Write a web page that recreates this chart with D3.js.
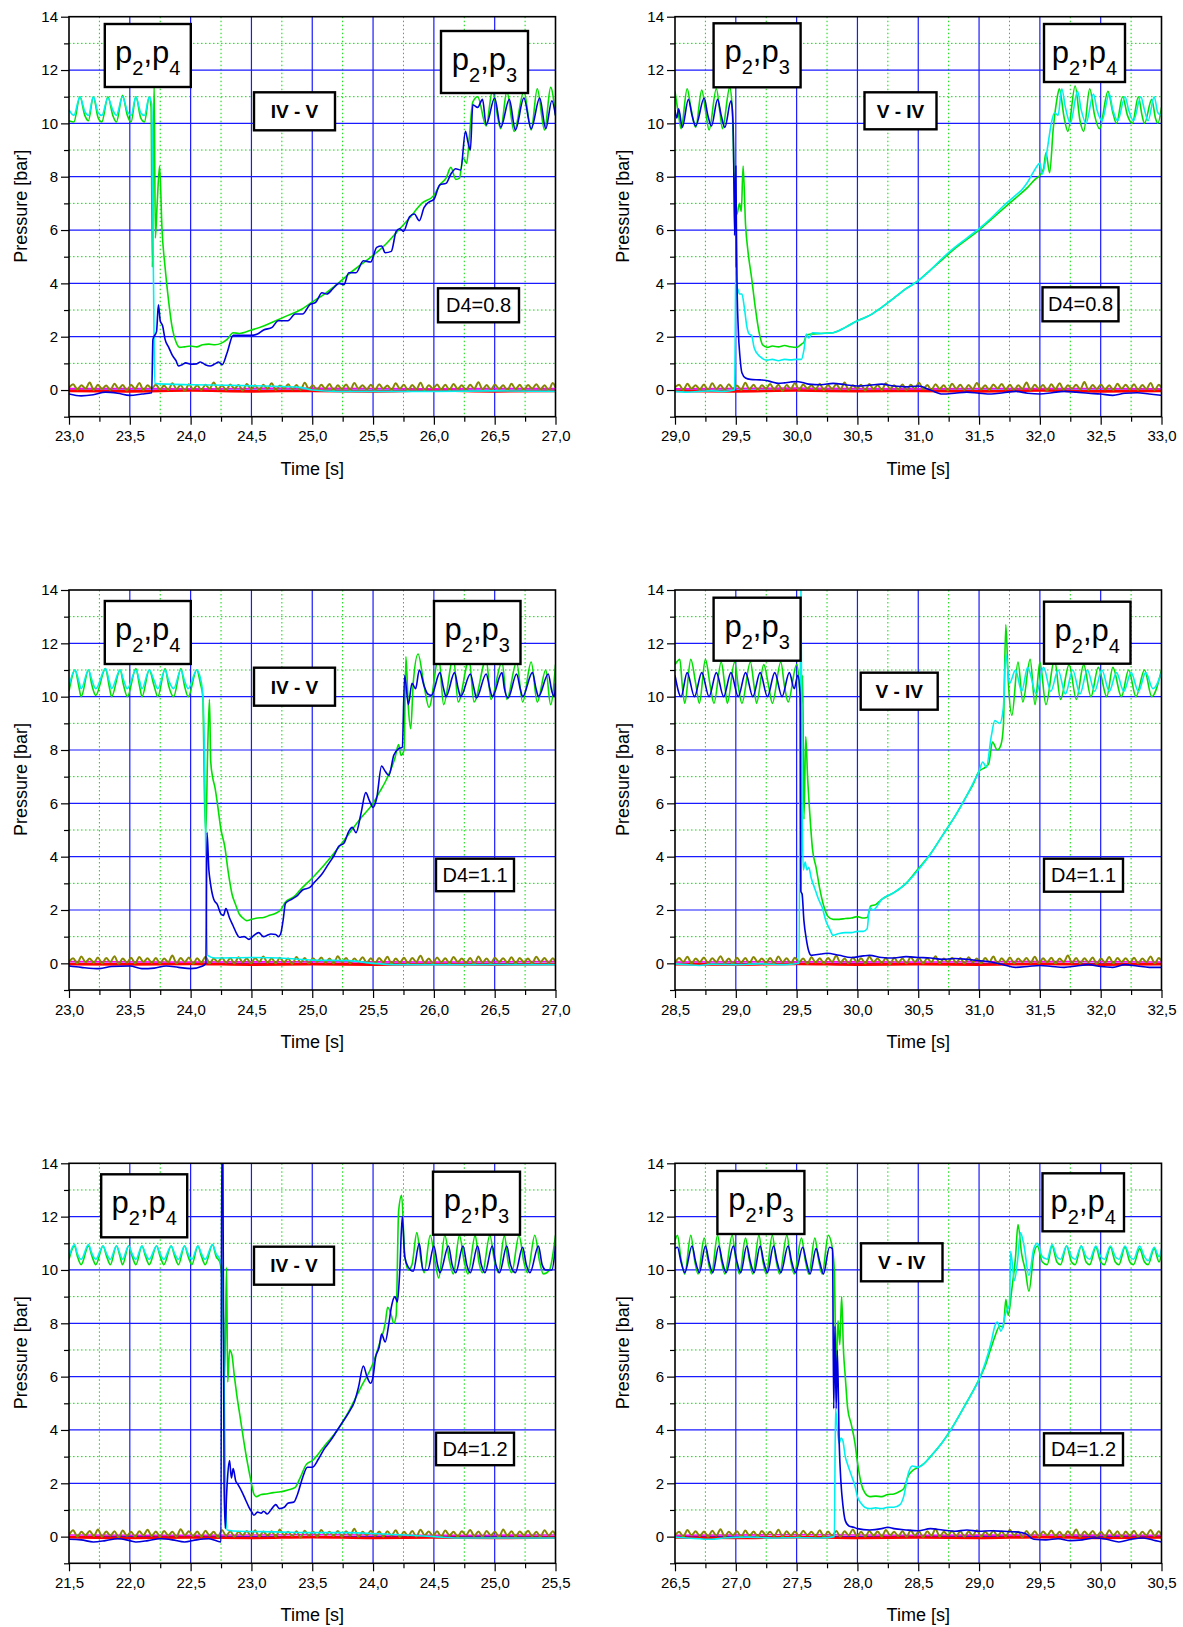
<!DOCTYPE html>
<html>
<head>
<meta charset="utf-8">
<script src="https://cdn.jsdelivr.net/npm/d3@7"></script>
<style>
body { margin: 0; background: #fff; }
svg { display: block; font-family: "Liberation Sans", Arial, sans-serif; }
</style>
</head>
<body>
<svg id="chart" width="1183" height="1627"></svg>
<script>
// ---- data (time [s], pressure [bar]) ----
var xDomains = [[23, 27], [29, 33], [23, 27], [28.5, 32.5], [21.5, 25.5], [26.5, 30.5]];
var yTicksMajor = [0, 2, 4, 6, 8, 10, 12, 14];
var yTicksMinor = [-1, 1, 3, 5, 7, 9, 11, 13];
var transitions = ["IV - V", "V - IV", "IV - V", "V - IV", "IV - V", "V - IV"];
var d4Labels = ["D4=0.8", "D4=0.8", "D4=1.1", "D4=1.1", "D4=1.2", "D4=1.2"];
var leftSubs = [["2", "4"], ["2", "3"], ["2", "4"], ["2", "3"], ["2", "4"], ["2", "3"]];
var rightSubs = [["2", "3"], ["2", "4"], ["2", "3"], ["2", "4"], ["2", "3"], ["2", "4"]];

// flat lists t,v,t,v...
var green1 = [23.0,10.1, 23.04,10.05, 23.09,11.0, 23.13,10.3, 23.16,10.1, 23.20,11.0, 23.24,10.2, 23.27,10.05, 23.32,11.0, 23.36,10.3, 23.39,10.05, 23.44,11.05, 23.48,10.3, 23.51,10.05, 23.55,11.0, 23.59,10.2, 23.62,10.05, 23.66,11.0, 23.675,10.6, 23.685,4.6, 23.70,11.6, 23.71,5.7, 23.725,7.0, 23.745,8.4, 23.765,6.0, 23.79,4.6, 23.82,3.3, 23.85,2.3, 23.88,1.8, 23.91,1.6, 23.95,1.62, 24.0,1.65, 24.05,1.62, 24.1,1.7, 24.15,1.72, 24.2,1.7, 24.25,1.75, 24.3,1.9, 24.35,2.15, 24.4,2.12, 24.5,2.25, 24.6,2.4, 24.7,2.6, 24.8,2.8, 24.9,3.0, 25.0,3.3, 25.1,3.6, 25.2,3.95, 25.3,4.35, 25.4,4.7, 25.5,5.05, 25.6,5.45, 25.7,5.95, 25.8,6.45, 25.9,7.0, 26.0,7.3, 26.05,7.7, 26.1,7.95, 26.14,8.35, 26.18,7.9, 26.21,7.95, 26.24,8.7, 26.27,8.5, 26.29,9.4, 26.32,10.8, 26.36,11.0, 26.43,9.9, 26.48,11.2, 26.55,9.8, 26.6,11.2, 26.66,9.7, 26.74,11.2, 26.8,9.75, 26.85,11.3, 26.91,9.75, 26.96,11.35, 27.0,10.3];
var cyan1 = [23.0,10.5, 23.04,10.3, 23.09,11.0, 23.13,10.45, 23.16,10.3, 23.2,11.0, 23.24,10.4, 23.27,10.3, 23.32,10.95, 23.36,10.5, 23.39,10.3, 23.44,11.0, 23.48,10.45, 23.51,10.3, 23.55,11.0, 23.59,10.4, 23.62,10.3, 23.66,11.0, 23.68,10.7, 23.695,4.0, 23.705,0.25, 23.8,0.22, 24.0,0.2, 24.3,0.18, 24.6,0.15, 24.9,0.1, 25.0,0.0, 25.2,-0.05, 26.0,-0.05, 26.5,-0.03, 27.0,-0.05];
var blue1 = [23.0,-0.15, 23.1,-0.22, 23.2,-0.18, 23.3,-0.08, 23.4,-0.12, 23.5,-0.2, 23.6,-0.15, 23.68,-0.1, 23.69,1.9, 23.72,2.2, 23.735,3.2, 23.75,2.6, 23.77,2.4, 23.79,1.9, 23.82,1.6, 23.85,1.3, 23.88,1.1, 23.9,0.9, 23.93,0.95, 23.96,1.02, 24.0,0.97, 24.05,0.98, 24.08,1.05, 24.12,0.95, 24.16,0.9, 24.2,0.98, 24.23,1.05, 24.26,0.95, 24.3,1.4, 24.35,2.05, 24.4,2.05, 24.5,2.05, 24.55,2.1, 24.6,2.25, 24.67,2.35, 24.72,2.6, 24.8,2.6, 24.86,2.85, 24.92,2.85, 24.98,3.2, 25.03,3.3, 25.08,3.65, 25.12,3.6, 25.17,3.8, 25.22,4.0, 25.26,3.95, 25.3,4.4, 25.36,4.4, 25.42,4.85, 25.48,4.8, 25.53,5.35, 25.57,5.4, 25.6,5.15, 25.65,5.2, 25.69,5.95, 25.72,6.05, 25.75,5.95, 25.8,6.5, 25.84,6.6, 25.88,6.35, 25.92,6.85, 25.96,7.05, 26.0,7.15, 26.05,7.7, 26.1,7.75, 26.14,8.1, 26.18,8.3, 26.22,8.25, 26.26,9.7, 26.28,9.3, 26.3,9.0, 26.32,10.7, 26.36,10.6, 26.4,10.9, 26.43,9.95, 26.5,10.95, 26.55,9.85, 26.62,10.9, 26.67,9.75, 26.74,10.95, 26.8,9.8, 26.87,10.95, 26.92,9.8, 26.97,10.85, 27.0,10.3];

var green2 = [29.0,11.2, 29.03,10.3, 29.05,9.8, 29.1,11.3, 29.13,10.6, 29.17,9.85, 29.22,11.25, 29.25,10.5, 29.28,9.75, 29.34,11.3, 29.37,10.4, 29.39,9.8, 29.45,11.35, 29.47,10.6, 29.49,7.5, 29.51,6.6, 29.53,7.0, 29.545,6.7, 29.56,8.4, 29.58,6.2, 29.6,5.2, 29.63,4.2, 29.66,3.1, 29.69,2.2, 29.72,1.7, 29.76,1.6, 29.8,1.65, 29.85,1.62, 29.9,1.67, 29.95,1.62, 30.0,1.6, 30.04,1.72, 30.06,1.8, 30.08,2.05, 30.12,2.1, 30.2,2.12, 30.3,2.15, 30.4,2.35, 30.5,2.6, 30.6,2.8, 30.7,3.1, 30.8,3.45, 30.9,3.8, 31.0,4.1, 31.1,4.5, 31.2,4.9, 31.3,5.3, 31.4,5.65, 31.5,6.0, 31.6,6.4, 31.7,6.8, 31.8,7.2, 31.9,7.6, 31.96,7.9, 32.0,8.05, 32.03,8.3, 32.05,8.9, 32.08,8.15, 32.11,9.8, 32.14,10.9, 32.16,11.3, 32.2,10.2, 32.23,9.7, 32.29,11.4, 32.33,10.1, 32.36,9.7, 32.41,11.3, 32.45,10.3, 32.49,9.8, 32.56,11.2, 32.6,10.4, 32.63,10.0, 32.68,11.0, 32.72,10.3, 32.76,10.0, 32.81,11.0, 32.84,10.3, 32.86,10.0, 32.92,10.9, 32.95,10.2, 32.97,10.0, 33.0,10.6];
var cyan2 = [29.0,-0.05, 29.1,-0.08, 29.2,-0.05, 29.3,-0.03, 29.4,-0.05, 29.49,0.0, 29.495,2.0, 29.5,4.6, 29.505,3.4, 29.515,3.8, 29.53,3.6, 29.55,3.6, 29.57,3.1, 29.59,2.4, 29.61,2.1, 29.63,2.05, 29.65,1.6, 29.67,1.4, 29.7,1.25, 29.73,1.15, 29.76,1.12, 29.8,1.15, 29.85,1.1, 29.9,1.15, 29.95,1.13, 30.0,1.15, 30.04,1.15, 30.06,1.5, 30.08,2.1, 30.1,1.95, 30.13,2.15, 30.2,2.12, 30.3,2.15, 30.4,2.35, 30.5,2.6, 30.6,2.8, 30.7,3.1, 30.8,3.45, 30.9,3.8, 31.0,4.1, 31.1,4.5, 31.2,4.95, 31.3,5.35, 31.4,5.7, 31.5,6.05, 31.6,6.45, 31.7,6.9, 31.8,7.3, 31.85,7.5, 31.9,7.8, 31.95,8.2, 32.0,8.5, 32.02,8.1, 32.06,9.0, 32.09,9.9, 32.12,10.4, 32.15,10.3, 32.18,11.3, 32.21,10.6, 32.25,10.0, 32.31,11.2, 32.34,10.5, 32.38,10.0, 32.44,11.1, 32.47,10.5, 32.51,10.1, 32.57,11.1, 32.6,10.5, 32.64,10.1, 32.7,11.0, 32.73,10.5, 32.77,10.1, 32.83,11.0, 32.86,10.5, 32.89,10.1, 32.94,11.0, 32.97,10.4, 33.0,10.3];
var blue2 = [29.0,10.5, 29.015,10.2, 29.03,10.55, 29.06,9.85, 29.11,10.9, 29.14,10.3, 29.17,9.9, 29.24,10.95, 29.27,10.3, 29.3,9.9, 29.35,10.9, 29.38,10.3, 29.41,9.85, 29.46,10.85, 29.47,10.6, 29.48,9.5, 29.49,5.8, 29.495,7.0, 29.5,8.4, 29.505,6.0, 29.51,4.0, 29.52,2.3, 29.535,1.2, 29.55,0.65, 29.58,0.45, 29.62,0.4, 29.7,0.38, 29.75,0.36, 29.8,0.3, 29.85,0.25, 29.9,0.27, 29.95,0.3, 30.0,0.32, 30.05,0.28, 30.1,0.22, 30.2,0.2, 30.3,0.25, 30.4,0.2, 30.5,0.15, 30.6,0.18, 30.7,0.22, 30.8,0.15, 30.9,0.12, 31.0,0.15, 31.1,0.0, 31.2,-0.15, 31.3,-0.12, 31.4,-0.08, 31.5,-0.12, 31.6,-0.15, 31.7,-0.1, 31.8,-0.05, 31.9,-0.12, 32.0,-0.15, 32.1,-0.1, 32.2,-0.05, 32.3,-0.08, 32.4,-0.12, 32.5,-0.15, 32.6,-0.2, 32.7,-0.12, 32.8,-0.1, 32.9,-0.15, 33.0,-0.2];

var green3 = [23.0,10.2, 23.05,11.0, 23.08,10.4, 23.1,10.0, 23.16,11.0, 23.19,10.4, 23.22,10.05, 23.3,11.05, 23.33,10.4, 23.35,10.0, 23.42,11.0, 23.45,10.4, 23.48,10.0, 23.55,11.05, 23.58,10.4, 23.6,10.0, 23.66,11.0, 23.7,10.4, 23.73,10.0, 23.79,11.05, 23.82,10.4, 23.86,10.0, 23.92,11.05, 23.95,10.4, 23.98,10.0, 24.05,11.0, 24.08,10.5, 24.1,10.0, 24.115,6.0, 24.125,4.9, 24.14,8.0, 24.155,9.9, 24.165,7.6, 24.18,7.0, 24.2,6.6, 24.22,6.0, 24.25,5.0, 24.28,4.4, 24.31,3.4, 24.34,2.6, 24.37,2.2, 24.4,1.85, 24.43,1.7, 24.46,1.6, 24.5,1.65, 24.55,1.7, 24.6,1.72, 24.65,1.8, 24.7,1.88, 24.74,2.0, 24.78,2.3, 24.85,2.5, 24.9,2.75, 25.0,3.2, 25.1,3.7, 25.2,4.25, 25.3,4.85, 25.4,5.45, 25.5,6.0, 25.55,6.4, 25.6,6.8, 25.64,7.2, 25.68,7.7, 25.71,8.2, 25.73,7.8, 25.755,8.0, 25.77,11.5, 25.79,9.6, 25.81,8.8, 25.83,10.5, 25.87,11.6, 25.92,10.4, 25.96,9.6, 26.04,11.5, 26.08,9.7, 26.16,11.5, 26.2,9.8, 26.29,11.4, 26.33,9.8, 26.43,11.4, 26.47,9.9, 26.56,11.3, 26.6,9.9, 26.68,11.3, 26.73,9.8, 26.8,11.3, 26.85,9.8, 26.92,11.0, 26.96,9.7, 27.0,11.2];
var cyan3 = [23.0,10.4, 23.05,11.0, 23.08,10.6, 23.1,10.3, 23.16,11.0, 23.19,10.6, 23.22,10.3, 23.3,11.05, 23.33,10.6, 23.35,10.3, 23.42,11.0, 23.45,10.6, 23.48,10.3, 23.55,11.0, 23.58,10.6, 23.6,10.3, 23.66,11.0, 23.7,10.6, 23.73,10.3, 23.79,11.0, 23.82,10.6, 23.86,10.3, 23.92,11.0, 23.95,10.6, 23.98,10.3, 24.05,11.0, 24.08,10.7, 24.1,10.1, 24.12,6.0, 24.13,2.0, 24.14,0.3, 24.2,0.2, 24.5,0.22, 24.8,0.18, 25.0,0.12, 25.3,0.1, 25.5,0.0, 25.7,-0.05, 26.5,-0.05, 27.0,-0.05];
var blue3 = [23.0,-0.1, 23.1,-0.15, 23.25,-0.2, 23.35,-0.12, 23.5,-0.1, 23.6,-0.2, 23.7,-0.18, 23.8,-0.1, 23.9,-0.15, 24.0,-0.2, 24.1,-0.1, 24.125,0.0, 24.135,4.9, 24.15,3.5, 24.16,3.1, 24.19,2.4, 24.22,2.2, 24.25,1.85, 24.27,1.8, 24.29,2.05, 24.32,1.7, 24.35,1.4, 24.38,1.1, 24.4,0.98, 24.44,1.0, 24.48,0.9, 24.52,1.05, 24.56,1.15, 24.6,1.0, 24.63,1.05, 24.66,1.1, 24.7,1.08, 24.72,1.0, 24.74,1.1, 24.76,1.6, 24.78,2.25, 24.83,2.4, 24.88,2.55, 24.92,2.75, 24.98,2.85, 25.02,3.05, 25.08,3.35, 25.13,3.7, 25.18,4.05, 25.22,4.4, 25.26,4.5, 25.3,4.95, 25.33,5.1, 25.36,4.9, 25.4,5.6, 25.44,6.4, 25.47,6.1, 25.5,5.85, 25.53,6.2, 25.57,7.4, 25.6,7.2, 25.63,7.05, 25.67,7.8, 25.71,8.05, 25.74,8.1, 25.76,10.8, 25.79,9.7, 25.82,10.5, 25.85,10.3, 25.88,11.0, 25.92,10.4, 25.95,10.1, 25.98,10.05, 26.05,10.9, 26.08,10.3, 26.1,10.0, 26.17,10.9, 26.2,10.3, 26.22,10.0, 26.3,10.85, 26.33,10.3, 26.35,9.95, 26.43,10.85, 26.46,10.3, 26.48,10.0, 26.56,10.9, 26.58,10.3, 26.61,9.95, 26.68,10.85, 26.71,10.3, 26.73,10.0, 26.81,10.9, 26.84,10.3, 26.86,10.0, 26.94,10.85, 26.97,10.2, 26.99,10.0, 27.0,10.5];

var green4 = [28.5,11.2, 28.54,11.4, 28.56,10.4, 28.58,9.75, 28.63,11.4, 28.67,10.5, 28.7,9.75, 28.75,11.4, 28.79,10.4, 28.82,9.75, 28.88,11.3, 28.91,10.4, 28.93,9.75, 28.99,11.3, 29.02,10.4, 29.05,9.75, 29.12,11.3, 29.15,10.4, 29.17,9.75, 29.23,11.2, 29.27,10.4, 29.3,9.75, 29.37,11.3, 29.4,10.4, 29.43,9.8, 29.5,11.2, 29.52,10.6, 29.535,9.5, 29.55,10.8, 29.56,5.4, 29.575,8.5, 29.59,7.0, 29.61,5.5, 29.63,4.3, 29.66,3.6, 29.69,2.8, 29.72,2.2, 29.76,1.75, 29.8,1.65, 29.85,1.65, 29.9,1.68, 29.95,1.7, 30.0,1.75, 30.04,1.7, 30.08,1.72, 30.11,2.15, 30.15,2.2, 30.2,2.4, 30.3,2.65, 30.4,3.0, 30.5,3.55, 30.6,4.1, 30.7,4.8, 30.8,5.5, 30.9,6.3, 30.95,6.7, 31.0,7.2, 31.05,7.35, 31.08,7.5, 31.11,8.3, 31.15,8.0, 31.18,8.2, 31.2,8.9, 31.22,12.7, 31.24,10.6, 31.27,9.3, 31.32,11.3, 31.36,9.8, 31.42,11.4, 31.46,9.7, 31.5,11.3, 31.55,9.7, 31.62,11.4, 31.67,9.9, 31.74,11.2, 31.8,9.9, 31.86,11.2, 31.92,10.0, 31.98,11.1, 32.05,10.0, 32.1,11.1, 32.17,10.0, 32.23,11.0, 32.29,10.0, 32.36,11.0, 32.42,10.0, 32.5,11.0];
var cyan4 = [28.5,-0.02, 28.6,-0.05, 28.7,-0.08, 28.8,-0.03, 29.0,-0.05, 29.2,-0.02, 29.4,-0.05, 29.52,0.0, 29.535,14.5, 29.545,6.0, 29.555,3.5, 29.57,3.8, 29.585,3.5, 29.6,3.6, 29.62,3.2, 29.65,2.8, 29.68,2.4, 29.71,2.1, 29.74,1.6, 29.77,1.3, 29.8,1.05, 29.85,1.12, 29.9,1.15, 29.95,1.15, 30.0,1.2, 30.05,1.2, 30.08,1.3, 30.1,2.1, 30.13,2.0, 30.2,2.4, 30.3,2.65, 30.4,3.0, 30.5,3.5, 30.6,4.1, 30.7,4.8, 30.8,5.5, 30.9,6.3, 30.95,6.75, 31.0,7.2, 31.03,7.55, 31.06,7.35, 31.1,8.5, 31.13,9.1, 31.17,9.0, 31.2,9.6, 31.22,11.6, 31.25,10.5, 31.3,11.0, 31.35,10.2, 31.4,11.1, 31.47,10.1, 31.53,11.1, 31.59,10.2, 31.65,11.0, 31.71,10.1, 31.77,11.0, 31.83,10.1, 31.89,11.0, 31.95,10.2, 32.01,11.0, 32.07,10.2, 32.13,10.9, 32.19,10.2, 32.25,10.9, 32.31,10.2, 32.37,10.9, 32.43,10.3, 32.5,10.9];
var blue4 = [28.5,10.8, 28.55,10.0, 28.6,10.9, 28.66,10.0, 28.72,10.9, 28.78,10.0, 28.84,10.9, 28.9,10.0, 28.96,10.9, 29.02,10.0, 29.08,10.9, 29.14,10.0, 29.2,10.9, 29.26,10.0, 29.32,10.9, 29.38,10.0, 29.44,10.9, 29.48,10.3, 29.51,10.8, 29.53,10.0, 29.535,2.7, 29.545,2.6, 29.56,1.6, 29.58,0.9, 29.6,0.45, 29.62,0.3, 29.7,0.35, 29.75,0.38, 29.85,0.3, 29.95,0.22, 30.05,0.28, 30.1,0.3, 30.2,0.22, 30.3,0.2, 30.4,0.25, 30.5,0.22, 30.6,0.2, 30.7,0.15, 30.8,0.18, 30.9,0.15, 31.0,0.1, 31.1,0.05, 31.2,-0.05, 31.3,-0.15, 31.4,-0.12, 31.5,-0.08, 31.6,-0.12, 31.7,-0.15, 31.8,-0.1, 31.9,-0.05, 32.0,-0.12, 32.1,-0.15, 32.2,-0.05, 32.3,-0.1, 32.4,-0.15, 32.5,-0.15];

var green5 = [21.5,10.4, 21.545,10.9, 21.57,10.5, 21.6,10.2, 21.66,10.9, 21.69,10.5, 21.72,10.2, 21.78,10.9, 21.81,10.5, 21.84,10.2, 21.89,10.9, 21.92,10.5, 21.94,10.2, 21.99,10.9, 22.02,10.5, 22.05,10.2, 22.1,10.9, 22.13,10.5, 22.16,10.2, 22.22,10.9, 22.25,10.5, 22.28,10.2, 22.34,10.9, 22.37,10.5, 22.4,10.2, 22.45,10.9, 22.48,10.5, 22.51,10.2, 22.56,10.9, 22.59,10.5, 22.62,10.2, 22.68,10.95, 22.71,10.5, 22.74,10.3, 22.765,9.0, 22.78,6.0, 22.795,10.1, 22.805,5.8, 22.82,7.0, 22.84,6.8, 22.86,6.0, 22.88,5.3, 22.91,4.4, 22.94,3.5, 22.97,2.7, 23.0,2.0, 23.02,1.6, 23.04,1.5, 23.08,1.58, 23.12,1.6, 23.18,1.65, 23.24,1.68, 23.3,1.75, 23.36,1.85, 23.4,2.2, 23.45,2.7, 23.5,2.85, 23.55,3.1, 23.6,3.4, 23.7,3.95, 23.8,4.7, 23.9,5.6, 24.0,6.5, 24.05,7.2, 24.1,8.0, 24.12,8.6, 24.15,8.3, 24.17,8.0, 24.19,8.3, 24.21,12.2, 24.235,12.8, 24.26,10.6, 24.29,10.0, 24.32,10.2, 24.36,11.4, 24.39,10.5, 24.42,9.9, 24.47,11.3, 24.51,10.3, 24.54,9.7, 24.59,11.3, 24.63,10.3, 24.66,9.85, 24.71,11.3, 24.75,10.3, 24.78,9.85, 24.84,11.3, 24.87,10.3, 24.9,9.9, 24.96,11.3, 25.0,10.3, 25.03,9.9, 25.08,11.3, 25.11,10.3, 25.14,9.9, 25.2,11.3, 25.24,10.3, 25.27,9.9, 25.33,11.3, 25.37,10.3, 25.4,9.85, 25.45,10.0, 25.5,11.3];
var cyan5 = [21.5,10.5, 21.545,10.95, 21.57,10.6, 21.6,10.4, 21.66,10.95, 21.69,10.6, 21.72,10.4, 21.78,10.9, 21.81,10.6, 21.84,10.4, 21.89,10.9, 21.92,10.6, 21.94,10.4, 21.99,10.9, 22.02,10.6, 22.05,10.4, 22.1,10.9, 22.13,10.6, 22.16,10.4, 22.22,10.9, 22.25,10.6, 22.28,10.4, 22.34,10.9, 22.37,10.6, 22.4,10.4, 22.45,10.9, 22.48,10.6, 22.51,10.4, 22.56,10.9, 22.59,10.6, 22.62,10.4, 22.68,10.95, 22.71,10.6, 22.74,10.4, 22.76,10.0, 22.775,6.0, 22.79,1.0, 22.8,0.25, 22.9,0.2, 23.2,0.18, 23.5,0.15, 23.8,0.15, 24.0,0.12, 24.3,0.05, 24.5,0.0, 24.7,-0.05, 25.5,-0.05];
var blue5 = [21.5,-0.1, 21.6,-0.12, 21.7,-0.2, 21.8,-0.15, 21.9,-0.08, 22.0,-0.15, 22.05,-0.2, 22.15,-0.15, 22.25,-0.08, 22.35,-0.12, 22.45,-0.2, 22.55,-0.12, 22.65,-0.08, 22.75,-0.2, 22.755,14.5, 22.765,14.5, 22.775,2.0, 22.785,0.3, 22.795,1.5, 22.805,2.3, 22.82,2.85, 22.835,2.2, 22.85,2.55, 22.87,2.1, 22.89,1.95, 22.92,1.7, 22.95,1.4, 22.98,1.1, 23.0,0.95, 23.02,0.8, 23.05,0.92, 23.08,0.88, 23.1,0.95, 23.13,0.85, 23.16,1.0, 23.2,1.2, 23.23,1.05, 23.27,1.1, 23.3,1.25, 23.35,1.3, 23.38,1.6, 23.42,2.2, 23.46,2.6, 23.5,2.6, 23.55,2.9, 23.6,3.3, 23.65,3.6, 23.7,3.95, 23.75,4.3, 23.8,4.65, 23.85,5.1, 23.88,5.6, 23.92,6.4, 23.95,6.0, 23.98,5.75, 24.0,6.0, 24.02,6.7, 24.05,7.1, 24.07,7.6, 24.1,7.3, 24.13,8.0, 24.15,8.6, 24.18,9.0, 24.2,8.8, 24.22,10.0, 24.24,12.0, 24.26,10.5, 24.29,10.1, 24.33,9.95, 24.38,11.0, 24.41,10.0, 24.45,10.0, 24.5,10.9, 24.53,10.2, 24.55,9.9, 24.62,10.9, 24.65,10.2, 24.68,9.9, 24.74,10.9, 24.77,10.2, 24.8,9.9, 24.86,10.9, 24.89,10.2, 24.92,9.9, 24.98,10.9, 25.01,10.2, 25.04,9.9, 25.1,10.9, 25.13,10.2, 25.17,9.9, 25.23,10.85, 25.26,10.2, 25.29,9.9, 25.36,10.9, 25.39,10.2, 25.42,10.0, 25.47,10.0, 25.5,10.9];

var green6 = [26.5,11.1, 26.52,11.3, 26.55,10.4, 26.58,9.85, 26.63,11.3, 26.66,10.4, 26.69,9.85, 26.74,11.2, 26.77,10.4, 26.8,9.85, 26.85,11.3, 26.88,10.4, 26.91,9.85, 26.97,11.3, 27.0,10.4, 27.03,9.85, 27.08,11.2, 27.11,10.4, 27.14,9.85, 27.19,11.3, 27.22,10.4, 27.25,9.85, 27.3,11.3, 27.33,10.4, 27.36,9.85, 27.42,11.3, 27.45,10.4, 27.48,9.85, 27.54,11.2, 27.57,10.4, 27.6,9.85, 27.65,11.2, 27.68,10.4, 27.71,9.85, 27.76,11.3, 27.79,10.9, 27.81,10.0, 27.825,6.2, 27.84,8.1, 27.855,7.2, 27.87,9.0, 27.885,7.0, 27.9,6.0, 27.92,4.8, 27.95,4.2, 27.98,3.5, 28.0,2.8, 28.03,2.0, 28.06,1.65, 28.1,1.5, 28.15,1.52, 28.2,1.5, 28.25,1.58, 28.3,1.6, 28.35,1.7, 28.38,1.8, 28.42,2.3, 28.46,2.5, 28.5,2.6, 28.55,2.75, 28.6,3.0, 28.7,3.55, 28.8,4.25, 28.9,5.05, 29.0,5.9, 29.05,6.4, 29.1,7.1, 29.13,7.5, 29.17,7.9, 29.2,7.85, 29.22,8.9, 29.24,8.3, 29.27,9.3, 29.3,10.5, 29.32,11.7, 29.35,10.6, 29.38,10.0, 29.41,9.2, 29.45,10.6, 29.48,10.9, 29.52,10.3, 29.56,10.2, 29.6,10.9, 29.64,10.3, 29.67,10.2, 29.72,10.9, 29.76,10.3, 29.79,10.2, 29.84,10.9, 29.88,10.3, 29.91,10.2, 29.96,10.85, 30.0,10.3, 30.03,10.2, 30.08,10.85, 30.12,10.3, 30.15,10.2, 30.2,10.85, 30.24,10.3, 30.27,10.2, 30.32,10.8, 30.36,10.3, 30.39,10.2, 30.44,10.8, 30.48,10.3, 30.5,10.6];
var cyan6 = [26.5,-0.02, 26.6,-0.05, 26.8,-0.1, 26.9,-0.05, 27.1,-0.02, 27.3,-0.05, 27.5,-0.03, 27.7,-0.05, 27.81,0.0, 27.82,4.8, 27.835,4.0, 27.85,3.5, 27.865,3.7, 27.88,3.6, 27.9,3.0, 27.92,2.7, 27.95,2.3, 27.98,1.9, 28.0,1.5, 28.03,1.25, 28.06,1.1, 28.1,1.05, 28.15,1.08, 28.2,1.05, 28.25,1.1, 28.3,1.1, 28.35,1.2, 28.38,1.5, 28.42,2.4, 28.45,2.65, 28.5,2.6, 28.55,2.75, 28.6,3.0, 28.7,3.55, 28.8,4.25, 28.9,5.05, 29.0,5.9, 29.05,6.5, 29.1,7.3, 29.13,7.9, 29.15,8.05, 29.18,7.7, 29.22,8.4, 29.25,8.7, 29.26,10.7, 29.29,9.6, 29.32,10.5, 29.34,11.4, 29.37,10.9, 29.41,9.8, 29.45,10.8, 29.48,11.0, 29.52,10.5, 29.56,10.4, 29.6,10.95, 29.64,10.5, 29.67,10.4, 29.72,10.9, 29.76,10.5, 29.79,10.4, 29.84,10.9, 29.88,10.5, 29.91,10.4, 29.96,10.9, 30.0,10.5, 30.03,10.4, 30.08,10.9, 30.12,10.5, 30.15,10.4, 30.2,10.9, 30.24,10.5, 30.27,10.4, 30.32,10.9, 30.36,10.5, 30.39,10.35, 30.44,10.85, 30.48,10.5, 30.5,10.8];
var blue6 = [26.5,10.8, 26.52,10.85, 26.55,10.3, 26.58,9.9, 26.64,10.9, 26.67,10.3, 26.7,9.9, 26.75,10.9, 26.78,10.3, 26.81,9.9, 26.86,10.9, 26.89,10.3, 26.92,9.9, 26.98,10.9, 27.01,10.3, 27.04,9.9, 27.09,10.9, 27.12,10.3, 27.15,9.9, 27.2,10.9, 27.23,10.3, 27.26,9.9, 27.31,10.9, 27.34,10.3, 27.37,9.9, 27.43,10.9, 27.46,10.3, 27.49,9.9, 27.55,10.85, 27.58,10.3, 27.61,9.85, 27.66,10.8, 27.69,10.3, 27.72,9.85, 27.77,10.85, 27.795,10.8, 27.805,4.8, 27.815,7.9, 27.825,4.8, 27.835,7.0, 27.85,3.5, 27.865,2.0, 27.88,1.2, 27.9,0.6, 27.93,0.4, 27.97,0.35, 28.0,0.3, 28.1,0.25, 28.2,0.3, 28.25,0.35, 28.3,0.3, 28.4,0.25, 28.5,0.22, 28.6,0.3, 28.7,0.25, 28.8,0.2, 28.9,0.25, 29.0,0.2, 29.1,0.22, 29.2,0.2, 29.3,0.18, 29.38,0.12, 29.45,-0.1, 29.55,-0.12, 29.65,-0.08, 29.75,-0.15, 29.85,-0.12, 29.95,-0.05, 30.05,-0.1, 30.15,-0.2, 30.25,-0.1, 30.35,-0.05, 30.45,-0.15, 30.5,-0.2];

// near-zero channels: red and magenta as t,v lists, olive sampled every OLIVE_DT from the start of each axis
var red1 = [23.0,-0.03, 23.5,-0.05, 24.0,-0.02, 24.5,-0.05, 25.0,-0.03, 25.5,-0.05, 26.0,-0.02, 26.5,-0.05, 27.0,-0.03];
var red2 = [29.0,-0.03, 29.5,-0.05, 30.0,-0.02, 30.5,-0.04, 31.0,-0.03, 31.5,-0.05, 32.0,-0.02, 32.5,-0.05, 33.0,-0.03];
var red3 = [23.0,-0.03, 23.5,-0.04, 24.0,-0.02, 24.5,-0.05, 25.0,-0.03, 25.5,-0.05, 26.0,-0.03, 26.5,-0.05, 27.0,-0.03];
var red4 = [28.5,-0.03, 29.0,-0.05, 29.5,-0.02, 30.0,-0.05, 30.5,-0.03, 31.0,-0.05, 31.5,-0.02, 32.0,-0.05, 32.5,-0.03];
var red5 = [21.5,-0.02, 22.0,-0.05, 22.5,-0.03, 23.0,-0.05, 23.5,-0.02, 24.0,-0.05, 24.5,-0.03, 25.0,-0.05, 25.5,-0.03];
var red6 = [26.5,-0.03, 27.0,-0.05, 27.5,-0.02, 28.0,-0.05, 28.5,-0.03, 29.0,-0.05, 29.5,-0.02, 30.0,-0.05, 30.5,-0.03];
var magenta1 = [23.0,0.06, 24.0,0.05, 25.0,0.07, 26.0,0.05, 27.0,0.06];
var magenta2 = [29.0,0.05, 30.0,0.07, 31.0,0.05, 32.0,0.06, 33.0,0.05];
var magenta3 = [23.0,0.07, 24.0,0.05, 25.0,0.06, 26.0,0.05, 27.0,0.07];
var magenta4 = [28.5,0.05, 29.5,0.06, 30.5,0.05, 31.5,0.07, 32.5,0.05];
var magenta5 = [21.5,0.06, 22.5,0.05, 23.5,0.07, 24.5,0.05, 25.5,0.06];
var magenta6 = [26.5,0.05, 27.5,0.07, 28.5,0.05, 29.5,0.06, 30.5,0.05];

var OLIVE_DT = 0.034;
var olive1 = [.08,.22,.02,.18,.05,.28,.0,.2,.04,.17,
  .0,.24,.05,.19,-.02,.2,.04,.26,.0,.18,
  .05,.21,.02,.17,.0,.25,.04,.19,-.03,.22,
  .03,.18,.0,.2,.05,.28,.02,.18,.0,.21,
  .05,.19,-.02,.23,.03,.18,.0,.2,.04,.25,
  .0,.17,.05,.22,.02,.19,.0,.27,.04,.18,
  .0,.2,.05,.23,-.02,.18,.03,.21,.0,.26,
  .05,.18,.02,.2,.0,.22,.04,.17,.0,.25,
  .05,.2,-.02,.19,.03,.27,.0,.18,.05,.21,
  .02,.2,.0,.23,.04,.18,.0,.2,.05,.29,
  .02,.19,.0,.21,.04,.18,-.02,.24,.03,.2,
  .0,.19,.05,.22,.02,.18,.0,.26,.04,.2];
var olive2 = [.1,.2,.0,.24,.05,.18,.02,.21,-.02,.25,
  .04,.19,.0,.22,.05,.17,.0,.27,.03,.2,
  .0,.18,.05,.23,.02,.2,-.03,.19,.04,.26,
  .0,.21,.05,.18,.02,.24,.0,.19,.04,.22,
  .02,.28,.0,.18,.05,.2,-.02,.23,.03,.19,
  .0,.25,.04,.18,.02,.21,.0,.2,.05,.27,
  .03,.19,.0,.22,.04,.18,-.02,.24,.05,.2,
  .0,.19,.03,.26,.02,.18,.0,.21,.05,.23,
  .02,.2,.0,.18,.04,.28,.0,.2,.05,.19,
  -.02,.22,.03,.25,.0,.18,.05,.2,.02,.3,
  .0,.19,.04,.21,.02,.18,.0,.24,.05,.2,
  .02,.22,.0,.19,.04,.26,.0,.2,.05,.18];
var olive3 = [.05,.19,.0,.26,.04,.18,.02,.22,.0,.2,
  .05,.27,-.02,.18,.03,.21,.0,.24,.05,.19,
  .02,.2,.0,.18,.04,.29,.0,.2,.05,.22,
  -.02,.19,.03,.25,.0,.18,.05,.21,.02,.2,
  .0,.23,.04,.18,.0,.2,.05,.26,.02,.19,
  .0,.21,.04,.18,-.02,.24,.03,.2,.0,.19,
  .05,.22,.02,.18,.0,.27,.04,.2,.0,.18,
  .05,.23,.02,.19,.0,.2,.04,.25,-.02,.18,
  .03,.21,.0,.2,.05,.28,.02,.18,.0,.22,
  .04,.19,.0,.24,.05,.18,.02,.2,-.03,.26,
  .03,.18,.0,.21,.05,.19,.02,.23,.0,.2,
  .04,.18,.0,.25,.05,.2,.02,.19,.0,.22];
var olive4 = [.02,.2,.05,.25,.0,.18,.04,.22,.0,.19,
  .05,.27,.02,.18,-.02,.21,.03,.2,.0,.24,
  .05,.18,.02,.2,.0,.26,.04,.19,.0,.21,
  .05,.18,-.02,.23,.03,.19,.0,.2,.05,.28,
  .02,.18,.0,.22,.04,.19,.0,.25,.05,.18,
  .02,.2,-.03,.21,.03,.18,.0,.24,.05,.2,
  .0,.19,.04,.27,.0,.18,.05,.21,.02,.2,
  .0,.23,.04,.18,.0,.2,.05,.26,-.02,.19,
  .03,.22,.0,.18,.05,.2,.02,.25,.0,.19,
  .04,.21,.0,.18,.05,.29,.02,.2,.0,.19,
  .04,.22,-.02,.18,.03,.24,.0,.2,.05,.19,
  .02,.21,.0,.18,.04,.26,.0,.2,.05,.22];
var olive5 = [.06,.24,.0,.18,.05,.21,.02,.27,.0,.19,
  .04,.2,-.02,.23,.03,.18,.0,.2,.05,.26,
  .02,.19,.0,.21,.04,.18,.0,.28,.05,.2,
  .02,.19,.0,.22,.04,.18,-.02,.25,.03,.2,
  .0,.18,.05,.21,.02,.24,.0,.19,.04,.2,
  .0,.27,.05,.18,.02,.2,-.03,.22,.03,.19,
  .0,.25,.05,.18,.02,.21,.0,.2,.04,.3,
  .0,.18,.05,.22,.02,.19,.0,.2,.04,.24,
  -.02,.18,.03,.21,.0,.26,.05,.19,.02,.2,
  .0,.23,.04,.18,.0,.2,.05,.25,.02,.19,
  .0,.21,.04,.18,-.02,.27,.03,.2,.0,.19,
  .05,.22,.02,.18,.0,.24,.04,.2,.0,.21];
var olive6 = [.04,.18,.0,.25,.05,.2,.02,.19,.0,.22,
  .04,.28,.0,.18,.05,.2,-.02,.23,.03,.19,
  .0,.21,.05,.18,.02,.26,.0,.2,.04,.19,
  .0,.22,.05,.18,.02,.24,-.02,.19,.03,.21,
  .0,.2,.05,.27,.02,.18,.0,.21,.04,.19,
  .0,.25,.05,.18,.02,.2,.0,.23,.04,.19,
  -.02,.2,.03,.29,.0,.18,.05,.21,.02,.2,
  .0,.19,.04,.24,.0,.18,.05,.22,.02,.2,
  .0,.26,.04,.18,-.02,.21,.03,.2,.0,.19,
  .05,.23,.02,.18,.0,.2,.04,.27,.0,.19,
  .05,.21,.02,.18,.0,.24,.04,.2,-.02,.19,
  .03,.22,.0,.18,.05,.25,.02,.2,.0,.21];

var greenSeries = [green1, green2, green3, green4, green5, green6];
var cyanSeries = [cyan1, cyan2, cyan3, cyan4, cyan5, cyan6];
var blueSeries = [blue1, blue2, blue3, blue4, blue5, blue6];
var redSeries = [red1, red2, red3, red4, red5, red6];
var magentaSeries = [magenta1, magenta2, magenta3, magenta4, magenta5, magenta6];
var oliveSeries = [olive1, olive2, olive3, olive4, olive5, olive6];

// ---- layout ----
var PW = 486.5, PH = 400;
var COL_X = [69, 675];
var ROW_Y = [16.7, 590, 1163.3];
var YTITLE_X = [-42.5, -46.5];
// boxes relative to plot origin: [x, y, w, h] for left label, right label, transition, D4
var boxLayout = [
	[[35.8, 7.3, 86, 63], [372, 14.3, 87, 62], [185, 75.6, 81, 38], [369, 271.6, 81, 34]],
	[[38.6, 6.6, 87, 64], [369, 7.3, 81, 58], [189.5, 75.6, 72, 37], [367.5, 270.6, 76, 34]],
	[[35.8, 11, 86, 63], [365, 11, 86.5, 63], [185, 77.7, 81, 38], [367, 268.7, 78, 32.5]],
	[[38.6, 7.7, 87, 63], [369, 11.7, 86.5, 62], [185.7, 82.7, 77, 37], [369, 268.7, 79, 33]],
	[[32.2, 11, 86, 63], [364, 8.4, 87, 63], [185, 83.4, 80, 38], [367, 269.4, 78, 32.5]],
	[[42.4, 7.7, 87, 63], [367.5, 10, 81.5, 58], [186, 80, 81.5, 38], [369, 270, 79, 32]]
];

var commaLocale = d3.formatLocale({decimal: ",", thousands: ".", grouping: [3], currency: ["", ""]});
var fmtTime = commaLocale.format(".1f");

function toPairs(flat) {
	var out = [];
	for (var i = 0; i < flat.length; i += 2) out.push([flat[i], flat[i + 1]]);
	return out;
}
function stepRange(a, b, s) {
	var out = [];
	for (var k = 0; a + k * s <= b + 1e-9; k++) out.push(Math.round((a + k * s) * 1000) / 1000);
	return out;
}

var svg = d3.select("#chart");

xDomains.forEach(function(dom, i) {
	var col = i % 2, row = Math.floor(i / 2);
	var g = svg.append("g")
		.attr("transform", "translate(" + COL_X[col] + "," + ROW_Y[row] + ")");

	var x = d3.scaleLinear().domain(dom).range([0, PW]);
	var y = d3.scaleLinear().domain([-1, 14]).range([PH, 0]);

	var xMajor = stepRange(dom[0], dom[1], 0.5);
	var xMinor = stepRange(dom[0] + 0.25, dom[1], 0.5);

	// grid: minor dotted green, major solid blue
	var grid = g.append("g");
	grid.selectAll(".gx-minor").data(xMinor).enter().append("line")
		.attr("x1", function(d) { return x(d); }).attr("x2", function(d) { return x(d); })
		.attr("y1", 0).attr("y2", PH);
	grid.selectAll(".gy-minor").data(yTicksMinor.slice(1)).enter().append("line")
		.attr("y1", function(d) { return y(d); }).attr("y2", function(d) { return y(d); })
		.attr("x1", 0).attr("x2", PW);
	grid.selectAll("line")
		.attr("stroke", "#00dd00").attr("stroke-width", 1).attr("stroke-dasharray", "1.5,2.5");

	var gridMajor = g.append("g");
	gridMajor.selectAll(".gx").data(xMajor.slice(1, -1)).enter().append("line")
		.attr("x1", function(d) { return x(d); }).attr("x2", function(d) { return x(d); })
		.attr("y1", 0).attr("y2", PH);
	gridMajor.selectAll(".gy").data(yTicksMajor.slice(0, -1)).enter().append("line")
		.attr("y1", function(d) { return y(d); }).attr("y2", function(d) { return y(d); })
		.attr("x1", 0).attr("x2", PW);
	gridMajor.selectAll("line").attr("stroke", "#1a1aff").attr("stroke-width", 1.2);

	// data
	var clipId = "clip" + i;
	g.append("clipPath").attr("id", clipId)
		.append("rect").attr("width", PW).attr("height", PH);
	var plot = g.append("g").attr("clip-path", "url(#" + clipId + ")");

	var line = d3.line()
		.x(function(d) { return x(d[0]); })
		.y(function(d) { return y(d[1]); })
		.curve(d3.curveMonotoneX);

	var olivePts = oliveSeries[i].map(function(v, k) { return [dom[0] + k * OLIVE_DT, v]; });

	var layers = [
		{pts: toPairs(redSeries[i]), color: "#ff0000", w: 2.6},
		{pts: toPairs(magentaSeries[i]), color: "#ff00ff", w: 1.6},
		{pts: olivePts, color: "#868600", w: 2},
		{pts: toPairs(greenSeries[i]), color: "#00e000", w: 1.6},
		{pts: toPairs(cyanSeries[i]), color: "#00f0f0", w: 1.6},
		{pts: toPairs(blueSeries[i]), color: "#0000dd", w: 1.6}
	];
	plot.selectAll("path.series").data(layers).enter().append("path")
		.attr("class", "series")
		.attr("fill", "none")
		.attr("stroke", function(d) { return d.color; })
		.attr("stroke-width", function(d) { return d.w; })
		.attr("stroke-linejoin", "round")
		.attr("d", function(d) { return line(d.pts); });

	// axes
	var axisStyle = function(sel) {
		sel.select(".domain").remove();
		sel.selectAll(".tick line").attr("stroke", "#000").attr("stroke-width", 1.2);
		sel.selectAll(".tick text")
			.attr("fill", "#000")
			.style("font-size", "15px")
			.style("font-family", "'Liberation Sans', Arial, sans-serif");
	};
	g.append("g").attr("transform", "translate(0," + PH + ")")
		.call(d3.axisBottom(x).tickValues(xMajor).tickSize(8).tickPadding(6).tickFormat(fmtTime))
		.call(axisStyle);
	g.append("g").attr("transform", "translate(0," + PH + ")")
		.call(d3.axisBottom(x).tickValues(xMinor).tickSize(5).tickFormat(""))
		.call(axisStyle);
	g.append("g")
		.call(d3.axisLeft(y).tickValues(yTicksMajor).tickSize(8).tickPadding(3).tickFormat(d3.format("d")))
		.call(axisStyle);
	g.append("g")
		.call(d3.axisLeft(y).tickValues(yTicksMinor).tickSize(5).tickFormat(""))
		.call(axisStyle);

	// frame
	g.append("rect").attr("width", PW).attr("height", PH)
		.attr("fill", "none").attr("stroke", "#000").attr("stroke-width", 1.6);

	// axis titles
	g.append("text")
		.attr("x", PW / 2).attr("y", PH + 58)
		.attr("text-anchor", "middle")
		.style("font-size", "18px")
		.text("Time [s]");
	g.append("text")
		.attr("transform", "translate(" + YTITLE_X[col] + "," + 189.5 + ") rotate(-90)")
		.attr("text-anchor", "middle")
		.style("font-size", "18px")
		.text("Pressure [bar]");

	// annotation boxes
	var boxes = boxLayout[i];
	boxes.forEach(function(b) {
		g.append("rect")
			.attr("x", b[0]).attr("y", b[1]).attr("width", b[2]).attr("height", b[3])
			.attr("fill", "#fff").attr("stroke", "#000").attr("stroke-width", 2.4);
	});

	[[boxes[0], leftSubs[i]], [boxes[1], rightSubs[i]]].forEach(function(pair) {
		var b = pair[0], sub = pair[1];
		var t = g.append("text")
			.attr("x", b[0] + b[2] / 2).attr("y", b[1] + 39)
			.attr("text-anchor", "middle");
		t.append("tspan").style("font-size", "31px").text("p");
		t.append("tspan").style("font-size", "20px").attr("dy", 12).text(sub[0]);
		t.append("tspan").style("font-size", "31px").attr("dy", -12).text(",p");
		t.append("tspan").style("font-size", "20px").attr("dy", 12).text(sub[1]);
	});

	g.append("text")
		.attr("x", boxes[2][0] + boxes[2][2] / 2).attr("y", boxes[2][1] + boxes[2][3] / 2 + 6.8)
		.attr("text-anchor", "middle")
		.style("font-size", "19px").style("font-weight", "bold")
		.text(transitions[i]);

	g.append("text")
		.attr("x", boxes[3][0] + boxes[3][2] / 2).attr("y", boxes[3][1] + boxes[3][3] / 2 + 7.2)
		.attr("text-anchor", "middle")
		.style("font-size", "20px")
		.text(d4Labels[i]);
});
</script>
</body>
</html>
